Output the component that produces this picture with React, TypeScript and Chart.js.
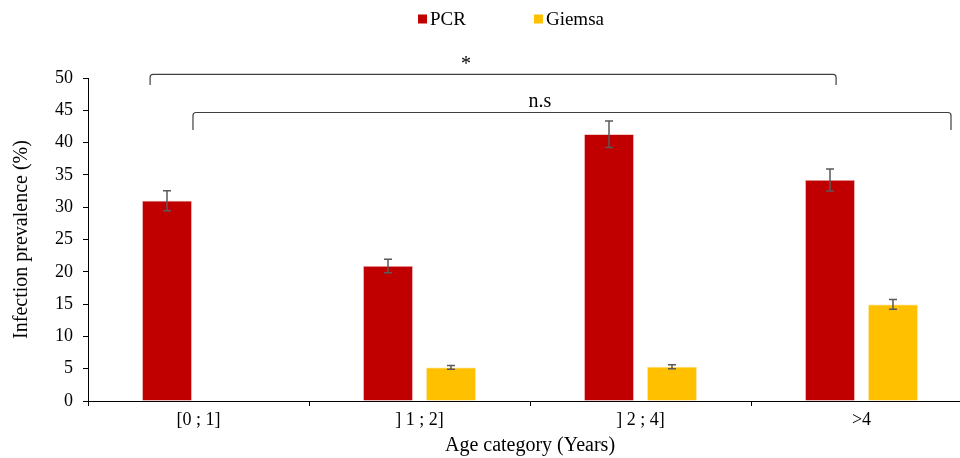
import React, { useEffect, useRef } from "react";
import { Chart, registerables } from "chart.js";

Chart.register(...registerables);

const categories = ["[0 ; 1]", "] 1 ; 2]", "] 2 ; 4]", ">4"];
const pcrValues = [31.0, 20.9, 41.3, 34.2];
const pcrErrors = [1.55, 1.05, 2.05, 1.7];
const giemsaValues = [0, 5.2, 5.3, 14.95];
const giemsaErrors = [0, 0.3, 0.3, 0.75];
const seriesNames = ["PCR", "Giemsa"];
const seriesColors = ["#C00000", "#FFC000"];
const yTicks = [0, 5, 10, 15, 20, 25, 30, 35, 40, 45, 50];

// Significance brackets: [start cat, offset, end cat, offset, top value, leg bottom value, label, label value, label category position]
const brackets: [number, number, number, number, number, number, string, number, number][] = [
  [0, -0.219, 3, -0.115, 50.57, 48.9, "*", 52.0, 1.21],
  [0, -0.025, 3, 0.405, 44.66, 41.95, "n.s", 46.3, 1.545],
];

const FONT = "'Liberation Serif', 'Times New Roman', serif";

const overlayPlugin = {
  id: "overlay",
  afterDatasetsDraw(chart: any) {
    const ctx = chart.ctx;
    const y = chart.scales.y;
    const errs = [pcrErrors, giemsaErrors];
    const vals = [pcrValues, giemsaValues];
    ctx.save();
    ctx.strokeStyle = "#595959";
    ctx.lineWidth = 1.5;
    for (let d = 0; d < 2; d++) {
      const meta = chart.getDatasetMeta(d);
      meta.data.forEach((bar: any, i: number) => {
        const e = errs[d][i];
        if (!e) return;
        const v = vals[d][i];
        const top = y.getPixelForValue(v + e);
        const bot = y.getPixelForValue(v - e);
        const cx = bar.x;
        ctx.beginPath();
        ctx.moveTo(cx, top);
        ctx.lineTo(cx, bot);
        ctx.moveTo(cx - 4, top);
        ctx.lineTo(cx + 4, top);
        ctx.moveTo(cx - 4, bot);
        ctx.lineTo(cx + 4, bot);
        ctx.stroke();
      });
    }
    ctx.restore();
  },
  afterDraw(chart: any) {
    const ctx = chart.ctx;
    const x = chart.scales.x;
    const y = chart.scales.y;
    const catW = x.getPixelForValue(1) - x.getPixelForValue(0);
    ctx.save();
    ctx.strokeStyle = "#404040";
    ctx.lineWidth = 1.2;
    ctx.fillStyle = "#000";
    ctx.font = `20px ${FONT}`;
    ctx.textAlign = "center";
    ctx.textBaseline = "middle";
    brackets.forEach(([c1, o1, c2, o2, vTop, vBot, label, vLabel, cLabel]) => {
      const x1 = x.getPixelForValue(c1) + o1 * catW;
      const x2 = x.getPixelForValue(c2) + o2 * catW;
      const yt = y.getPixelForValue(vTop);
      const yb = y.getPixelForValue(vBot);
      const r = 3;
      ctx.beginPath();
      ctx.moveTo(x1, yb);
      ctx.lineTo(x1, yt + r);
      ctx.quadraticCurveTo(x1, yt, x1 + r, yt);
      ctx.lineTo(x2 - r, yt);
      ctx.quadraticCurveTo(x2, yt, x2, yt + r);
      ctx.lineTo(x2, yb);
      ctx.stroke();
      const lxp = x.getPixelForValue(Math.floor(cLabel)) + (cLabel - Math.floor(cLabel)) * catW;
      ctx.fillText(label, lxp, y.getPixelForValue(vLabel));
    });
    // legend
    ctx.font = `19px ${FONT}`;
    ctx.textAlign = "left";
    const box = 9;
    const gapBoxText = 3;
    const gapItems = 68;
    const widths = seriesNames.map((n) => box + gapBoxText + ctx.measureText(n).width);
    const total = widths.reduce((a, b) => a + b, 0) + gapItems * (seriesNames.length - 1);
    let lx = 511 - total / 2;
    const ly = 19;
    seriesNames.forEach((n, i) => {
      ctx.fillStyle = seriesColors[i];
      ctx.fillRect(lx, ly - box / 2, box, box);
      ctx.fillStyle = "#000";
      ctx.fillText(n, lx + box + gapBoxText, ly + 1);
      lx += widths[i] + gapItems;
    });
    ctx.restore();
  },
};

export default function App() {
  const ref = useRef<HTMLCanvasElement>(null);
  useEffect(() => {
    if (!ref.current) return;
    const chart = new Chart(ref.current, {
      type: "bar",
      data: {
        labels: categories,
        datasets: [
          {
            label: seriesNames[0],
            data: pcrValues,
            backgroundColor: seriesColors[0],
            borderColor: "#E8A0A0",
            borderWidth: 0.8,
            categoryPercentage: 0.57,
            barPercentage: 0.79,
          },
          {
            label: seriesNames[1],
            data: giemsaValues,
            backgroundColor: seriesColors[1],
            borderColor: "#FFE08A",
            borderWidth: 0.8,
            categoryPercentage: 0.57,
            barPercentage: 0.79,
          },
        ],
      },
      options: {
        responsive: false,
        animation: false,
        devicePixelRatio: 1,
        layout: { padding: { top: 78, right: 4, left: 0, bottom: 0 } },
        plugins: {
          legend: { display: false },
          tooltip: { enabled: false },
        },
        scales: {
          x: {
            offset: true,
            grid: {
              offset: true,
              drawOnChartArea: false,
              drawTicks: true,
              tickLength: 5,
              color: "#000",
            },
            border: { color: "#000", width: 1 },
            ticks: {
              color: "#000",
              padding: 3,
              font: { family: FONT, size: 18 },
            },
            title: {
              display: true,
              text: "Age category (Years)",
              color: "#000",
              font: { family: FONT, size: 20 },
              padding: { top: 0, bottom: 0 },
            },
            afterFit: (s: any) => {
              s.height = 57;
            },
          },
          y: {
            min: 0,
            max: 50,
            afterBuildTicks: (s: any) => {
              s.ticks = yTicks.map((v) => ({ value: v }));
            },
            grid: {
              drawOnChartArea: false,
              drawTicks: true,
              tickLength: 5,
              color: "#000",
            },
            border: { color: "#000", width: 1 },
            ticks: {
              color: "#000",
              padding: 10,
              font: { family: FONT, size: 18 },
            },
            title: {
              display: true,
              text: "Infection prevalence (%)",
              color: "#000",
              font: { family: FONT, size: 20 },
              padding: { top: 10, bottom: 0 },
            },
            afterFit: (s: any) => {
              s.width = 88;
            },
          },
        },
      },
      plugins: [overlayPlugin],
    });
    return () => chart.destroy();
  }, []);
  return (
    <div
      style={{
        position: "fixed",
        left: 0,
        top: 0,
        width: 960,
        height: 458,
        overflow: "hidden",
        background: "#fff",
      }}
    >
      <canvas ref={ref} width={976} height={458} style={{ width: 976, height: 458, display: "block" }} />
    </div>
  );
}
